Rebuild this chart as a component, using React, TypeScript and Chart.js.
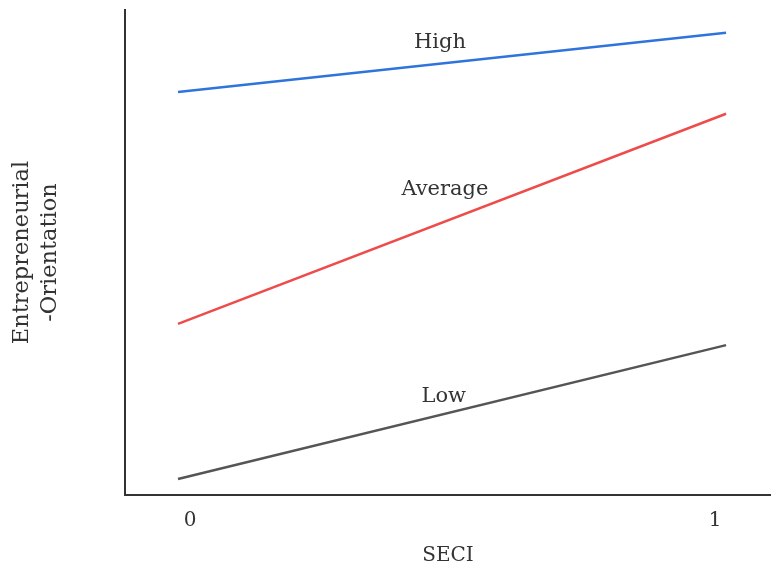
import React, { useEffect, useRef } from "react";
import { Chart, registerables } from "chart.js";

Chart.register(...registerables);

const X_VALUES = [0, 1];
const HIGH = [83.1, 95.3];
const AVERAGE = [35.3, 78.6];
const LOW = [3.3, 30.9];
const SERIES_NAMES = ["High", "Average", "Low"];
const LABEL_X = [0.478, 0.487, 0.485];
const LABEL_Y = [93.2, 62.9, 20.4];
const TICK_POSITIONS = [0.022, 0.98];
const TICK_LABELS = ["0", "1"];
const X_TITLE = "SECI";
const Y_TITLE = ["Entrepreneurial", "-Orientation"];

const FONT = "'DejaVu Serif', 'Liberation Serif', serif";

const labelPlugin = {
  id: "lineLabels",
  afterDatasetsDraw(chart: any) {
    const { ctx, scales } = chart;
    ctx.save();
    ctx.font = `21px ${FONT}`;
    ctx.fillStyle = "#333";
    ctx.textAlign = "center";
    ctx.textBaseline = "middle";
    SERIES_NAMES.forEach((name, i) => {
      ctx.fillText(name, scales.x.getPixelForValue(LABEL_X[i]), scales.y.getPixelForValue(LABEL_Y[i]));
    });
    ctx.restore();
  },
};

export default function App() {
  const ref = useRef<HTMLCanvasElement>(null);
  useEffect(() => {
    document.body.style.margin = "0";
    const mk = (vals: number[]) => X_VALUES.map((x, i) => ({ x, y: vals[i] }));
    const chart = new Chart(ref.current!, {
      type: "line",
      data: {
        datasets: [
          { label: SERIES_NAMES[0], data: mk(HIGH), borderColor: "#2f74dc", borderWidth: 2.5, pointRadius: 0 },
          { label: SERIES_NAMES[1], data: mk(AVERAGE), borderColor: "#ee4b4b", borderWidth: 2.5, pointRadius: 0 },
          { label: SERIES_NAMES[2], data: mk(LOW), borderColor: "#555555", borderWidth: 2.5, pointRadius: 0 },
        ],
      },
      options: {
        animation: false,
        responsive: false,
        layout: { padding: { top: 10, right: 0, left: 0, bottom: 0 } },
        plugins: { legend: { display: false }, tooltip: { enabled: false } },
        scales: {
          x: {
            type: "linear",
            min: -0.0967,
            max: 1.082,
            grid: { display: false, drawTicks: false },
            border: { display: true, color: "#333", width: 2 },
            afterBuildTicks: (axis: any) => {
              axis.ticks = TICK_POSITIONS.map((v) => ({ value: v }));
            },
            ticks: {
              padding: 14,
              autoSkip: false,
              maxRotation: 0,
              font: { family: FONT, size: 20 },
              color: "#333",
              callback: (_v: any, i: number) => TICK_LABELS[i],
            },
            title: {
              display: true,
              text: X_TITLE,
              font: { family: FONT, size: 20 },
              color: "#333",
              padding: { top: 10, bottom: 0 },
            },
            afterFit: (axis: any) => {
              axis.height = 73;
            },
          },
          y: {
            min: 0,
            max: 100,
            grid: { display: false, drawTicks: false },
            border: { display: true, color: "#333", width: 2 },
            ticks: { display: false },
            title: {
              display: true,
              text: Y_TITLE,
              font: { family: FONT, size: 22.5, lineHeight: 1.25 },
              color: "#333",
              padding: { top: 8, bottom: 0 },
            },
            afterFit: (axis: any) => {
              axis.width = 125;
            },
          },
        },
      },
      plugins: [labelPlugin],
    });
    return () => chart.destroy();
  }, []);
  return (
    <div style={{ position: "absolute", left: 0, top: 0, width: 771, height: 568 }}>
      <canvas ref={ref} width={771} height={568} style={{ width: 771, height: 568 }} />
    </div>
  );
}
